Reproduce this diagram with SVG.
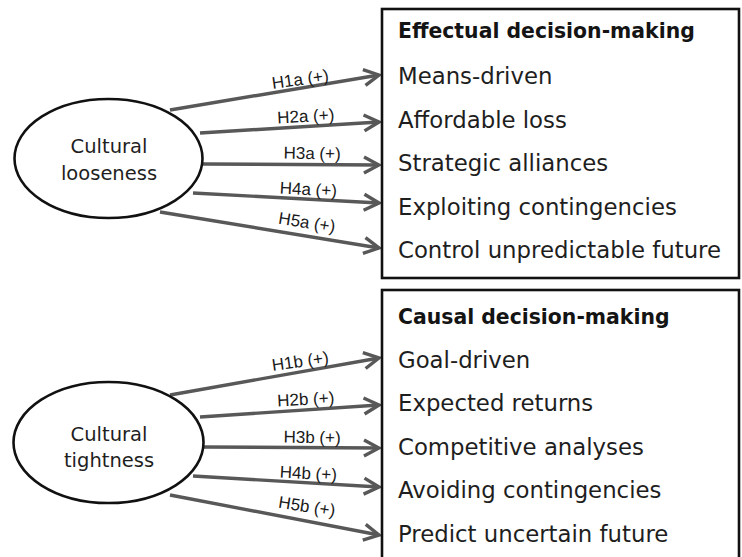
<svg xmlns="http://www.w3.org/2000/svg" width="742" height="557" viewBox="0 0 742 557">
  <style>
    .box { fill: #ffffff; stroke: #111111; stroke-width: 2.6; }
    .ell { fill: #ffffff; stroke: #111111; stroke-width: 2.6; }
    .item { font-family: "DejaVu Sans", "Liberation Sans", sans-serif; font-size: 22.8px; fill: #1e1e1e; }
    .head { font-family: "DejaVu Sans", "Liberation Sans", sans-serif; font-size: 20.4px; font-weight: bold; fill: #141414; }
    .node { font-family: "DejaVu Sans", "Liberation Sans", sans-serif; font-size: 19.5px; fill: #1e1e1e; text-anchor: middle; }
    .lbl { font-family: "Liberation Sans", Arial, sans-serif; font-size: 17px; fill: #1a1a1a; text-anchor: middle; }
    .arr { stroke: #585858; stroke-width: 3.4; fill: none; marker-end: url(#chev); }
  </style>
  <defs>
    <marker id="chev" markerUnits="userSpaceOnUse" viewBox="-18 -10 20 20" refX="0" refY="0" markerWidth="20" markerHeight="20" orient="auto">
      <path d="M-15,-8 L0,0 L-15,8" fill="none" stroke="#585858" stroke-width="3.4" stroke-linejoin="miter"/>
    </marker>
  </defs>
  <rect width="742" height="557" fill="#ffffff"/>

  <!-- connectors: hypotheses from each cultural dimension to its decision-making box -->
  <g id="connectors">
    <line class="arr" x1="170" y1="110" x2="379" y2="75"/>
    <line class="arr" x1="200" y1="133" x2="379" y2="122"/>
    <line class="arr" x1="203" y1="164" x2="379" y2="165"/>
    <line class="arr" x1="193" y1="193" x2="379" y2="203"/>
    <line class="arr" x1="160" y1="212" x2="379" y2="248"/>

    <line class="arr" x1="170" y1="395" x2="379" y2="358"/>
    <line class="arr" x1="200" y1="417" x2="379" y2="405"/>
    <line class="arr" x1="203" y1="447" x2="379" y2="448"/>
    <line class="arr" x1="193" y1="476" x2="379" y2="487"/>
    <line class="arr" x1="170" y1="495" x2="379" y2="535"/>

    <text class="lbl" transform="translate(301,85) rotate(-8)">H1a (+)</text>
    <text class="lbl" transform="translate(306,122) rotate(-3)">H2a (+)</text>
    <text class="lbl" transform="translate(312,159) rotate(1)">H3a (+)</text>
    <text class="lbl" transform="translate(308,195) rotate(3)">H4a (+)</text>
    <text class="lbl" transform="translate(306,228) rotate(9)">H5a (+)</text>

    <text class="lbl" transform="translate(301,367) rotate(-8)">H1b (+)</text>
    <text class="lbl" transform="translate(306,405) rotate(-3)">H2b (+)</text>
    <text class="lbl" transform="translate(312,443) rotate(1)">H3b (+)</text>
    <text class="lbl" transform="translate(308,479) rotate(3)">H4b (+)</text>
    <text class="lbl" transform="translate(306,512) rotate(9)">H5b (+)</text>
  </g>

  <g id="cultural-looseness">
    <ellipse class="ell" cx="108.5" cy="158.5" rx="94" ry="59.5"/>
    <text class="node" x="109" y="153">Cultural</text>
    <text class="node" x="109" y="180">looseness</text>
  </g>

  <g id="cultural-tightness">
    <ellipse class="ell" cx="108.5" cy="442.5" rx="95" ry="60.5"/>
    <text class="node" x="109" y="441">Cultural</text>
    <text class="node" x="109" y="467">tightness</text>
  </g>

  <g id="effectual-decision-making">
    <rect class="box" x="382" y="9" width="357" height="269"/>
    <text class="head" x="398" y="38">Effectual decision-making</text>
    <text class="item" x="398" y="84">Means-driven</text>
    <text class="item" x="398" y="128">Affordable loss</text>
    <text class="item" x="398" y="171">Strategic alliances</text>
    <text class="item" x="398" y="215">Exploiting contingencies</text>
    <text class="item" x="398" y="258">Control unpredictable future</text>
  </g>

  <g id="causal-decision-making">
    <rect class="box" x="382" y="290" width="357" height="290"/>
    <text class="head" x="398" y="324">Causal decision-making</text>
    <text class="item" x="398" y="368">Goal-driven</text>
    <text class="item" x="398" y="411">Expected returns</text>
    <text class="item" x="398" y="455">Competitive analyses</text>
    <text class="item" x="398" y="498">Avoiding contingencies</text>
    <text class="item" x="398" y="542">Predict uncertain future</text>
  </g>
</svg>
